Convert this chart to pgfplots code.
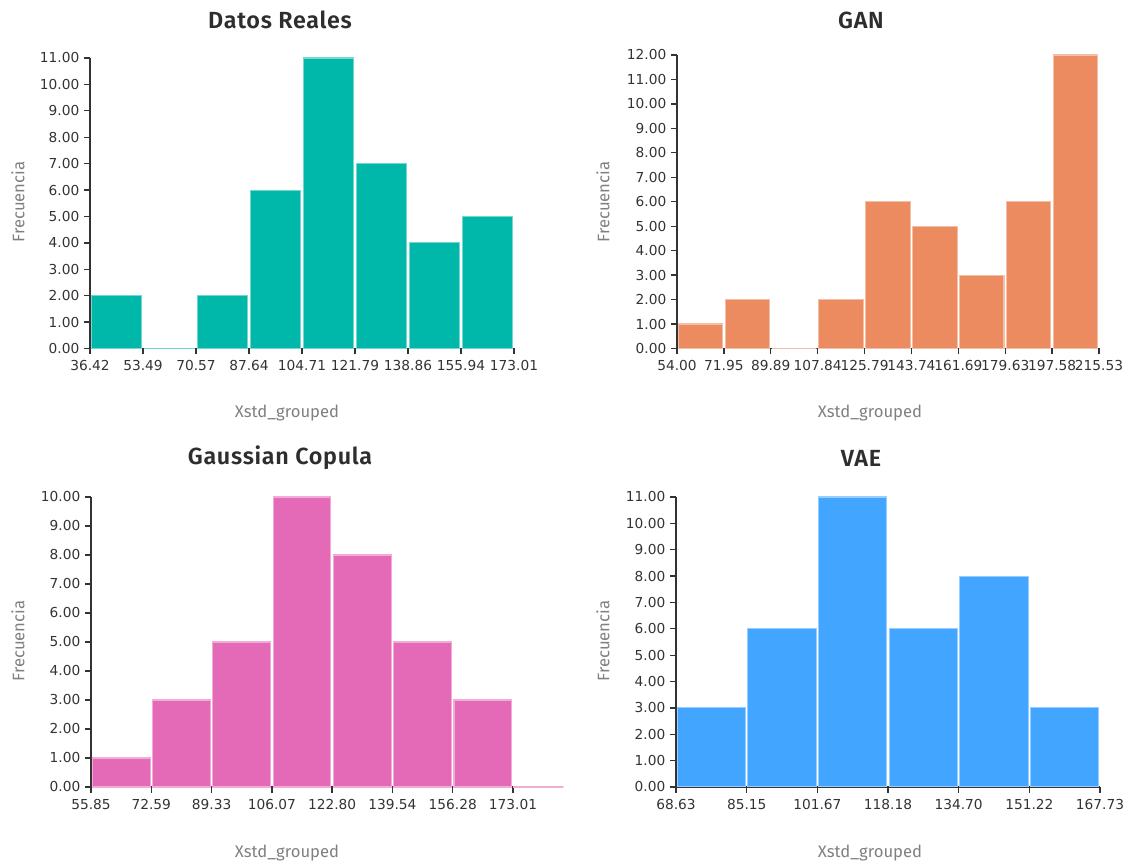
\documentclass[border=0pt]{standalone}
\usepackage{fontspec}
\setmainfont{DejaVu Sans}
\newfontfamily\labelfont{Fira Sans}
\newfontfamily\titlefont{Fira Sans}[LetterSpace=3, BoldFont={Fira Sans SemiBold}]
\usepackage{pgfplots}
\pgfplotsset{compat=1.18}

\definecolor{cReal}{RGB}{0,184,169}
\definecolor{cGan}{RGB}{235,139,95}
\definecolor{cCop}{RGB}{228,105,182}
\definecolor{cVae}{RGB}{66,165,255}
\definecolor{axisgray}{RGB}{51,51,51}
\definecolor{labelgray}{RGB}{128,128,128}

\pgfplotsset{
  hist/.style={
    scale only axis,
    anchor=south west,
    axis x line*=bottom,
    axis y line*=left,
    ymin=0,
    enlargelimits=false,
    ybar,
    bar shift=0pt,
    ytick distance=1,
    tick align=outside,
    major tick length=4.5pt,
    axis line style={axisgray, line width=1pt},
    tick style={axisgray, line width=1pt},
    /pgf/number format/assume math mode=true,
    tick label style={font=\fontsize{10.3}{12}\selectfont, text=axisgray},
    y tick label style={/pgf/number format/fixed,
      /pgf/number format/fixed zerofill,
      /pgf/number format/precision=2},
    xticklabel style={yshift=-1pt},
  },
  bars/.style={fill=#1, draw=#1!55, line width=0.8pt},
}

\begin{document}
\begin{tikzpicture}
\useasboundingbox (0,0) rectangle (846pt,647.25pt);

% Datos Reales
\begin{axis}[hist, at={(67.5pt,385.875pt)}, width=318pt, height=217.875pt,
  xmin=36.42, xmax=173.01, ymax=11,
  xtick={36.42,53.49,70.57,87.64,104.71,121.79,138.86,155.94,173.01},
  xticklabels={36.42,53.49,70.57,87.64,104.71,121.79,138.86,155.94,173.01}]
\addplot[bars=cReal, bar width=16.27]
  coordinates {(44.955,2) (62.03,0) (79.105,2) (96.175,6) (113.25,11)
               (130.325,7) (147.40,4) (164.475,5)};
\end{axis}

% GAN
\begin{axis}[hist, at={(507.75pt,385.875pt)}, width=316.5pt, height=220.125pt,
  xmin=54.00, xmax=215.53, ymax=12,
  xtick={54.00,71.95,89.89,107.84,125.79,143.74,161.69,179.63,197.58,215.53},
  xticklabels={54.00,71.95,89.89,107.84,125.79,143.74,161.69,179.63,197.58,215.53}]
\addplot[bars=cGan, bar width=16.99]
  coordinates {(62.975,1) (80.92,2) (98.865,0) (116.815,2) (134.765,6)
               (152.715,5) (170.66,3) (188.605,6) (206.555,12)};
\end{axis}

% Gaussian Copula (last, empty bin runs past the axis end)
\begin{axis}[hist, at={(68.25pt,57pt)}, width=316.5pt, height=217.5pt,
  clip=false,
  xmin=55.85, xmax=173.01, ymax=10,
  xtick={55.85,72.59,89.33,106.07,122.80,139.54,156.28,173.01},
  xticklabels={55.85,72.59,89.33,106.07,122.80,139.54,156.28,173.01}]
\addplot[bars=cCop, bar width=16.04]
  coordinates {(64.22,1) (80.96,3) (97.70,5) (114.435,10) (131.17,8)
               (147.91,5) (164.645,3)};
\addplot[bars=cCop, bar width=13.95]
  coordinates {(179.99,0)};
\end{axis}

% VAE
\begin{axis}[hist, at={(507pt,57pt)}, width=318pt, height=217.5pt,
  xmin=68.63, xmax=167.73, ymax=11,
  xtick={68.63,85.15,101.67,118.18,134.70,151.22,167.73},
  xticklabels={68.63,85.15,101.67,118.18,134.70,151.22,167.73}]
\addplot[bars=cVae, bar width=15.94]
  coordinates {(76.89,3) (93.41,6) (109.925,11) (126.44,6) (142.96,8)
               (159.475,3)};
\end{axis}

% titles
\begin{scope}[every node/.style={font=\titlefont\bfseries\fontsize{17.5}{20}\selectfont, text=black!82}]
\node at (210pt,632.25pt) {Datos Reales};
\node at (645.75pt,632.25pt) {GAN};
\node at (210pt,303.75pt) {Gaussian Copula};
\node at (645.75pt,303.75pt) {VAE};
\end{scope}

% axis labels
\begin{scope}[every node/.style={font=\labelfont\fontsize{12.5}{15}\selectfont, text=labelgray}]
\node at (215.25pt,337.5pt) {Xstd\_grouped};
\node at (652.5pt,337.5pt) {Xstd\_grouped};
\node at (215.25pt,7.5pt) {Xstd\_grouped};
\node at (652.5pt,7.5pt) {Xstd\_grouped};
\node[rotate=90] at (13.5pt,495.75pt) {Frecuencia};
\node[rotate=90] at (452.25pt,495.75pt) {Frecuencia};
\node[rotate=90] at (13.5pt,166.5pt) {Frecuencia};
\node[rotate=90] at (452.25pt,166.5pt) {Frecuencia};
\end{scope}
\end{tikzpicture}
\end{document}
